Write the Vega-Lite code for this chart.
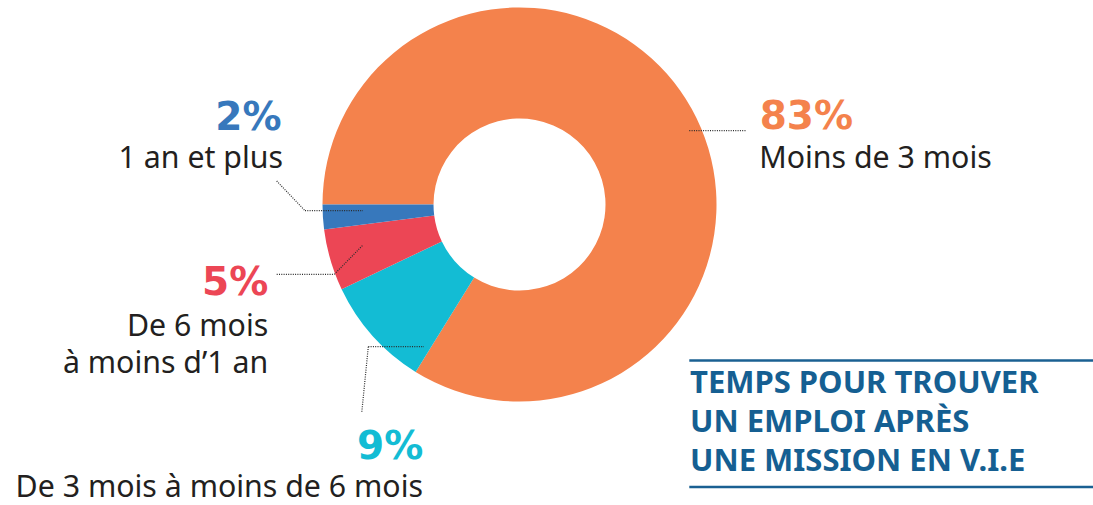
{
  "$schema": "https://vega.github.io/schema/vega-lite/v6.json",
  "width": 1039,
  "height": 409,
  "autosize": "none",
  "padding": {"left": 0, "top": 0, "right": 54, "bottom": 96},
  "background": "#ffffff",
  "config": {"view": {"stroke": null}, "axis": {"disable": true}},
  "layer": [
    {
      "data": {
        "values": [
          {"cat": "Moins de 3 mois", "pct": "83%", "value": 83, "rang": 1},
          {"cat": "De 3 mois à moins de 6 mois", "pct": "9%", "value": 9, "rang": 2},
          {"cat": "De 6 mois\nà moins d’1 an", "pct": "5%", "value": 5, "rang": 3},
          {"cat": "1 an et plus", "pct": "2%", "value": 2, "rang": 4}
        ]
      },
      "encoding": {
        "theta": {"field": "value", "type": "quantitative", "stack": true, "scale": {"range": [4.71238898, 10.99557429]}},
        "order": {"field": "rang", "type": "quantitative"},
        "detail": {"field": "cat", "type": "nominal"},
        "color": {
          "field": "cat", "type": "nominal", "legend": null,
          "scale": {
            "domain": ["Moins de 3 mois", "De 3 mois à moins de 6 mois", "De 6 mois\nà moins d’1 an", "1 an et plus"],
            "range": ["#F4824C", "#13BCD4", "#EC4655", "#3778BC"]
          }
        }
      },
      "layer": [
        {"mark": {"type": "arc", "outerRadius": 197, "innerRadius": 86}},
        {
          "mark": {"type": "text", "radius": 141, "align": "left", "baseline": "alphabetic", "dx": 117, "dy": -7, "font": "DejaVu Sans", "fontWeight": "bold", "fontSize": 39},
          "encoding": {"text": {"condition": {"test": "datum.rang === 1", "field": "pct"}, "value": ""}}
        },
        {
          "mark": {"type": "text", "radius": 141, "align": "left", "baseline": "alphabetic", "dx": 116.5, "dy": 32.4, "font": "Noto Sans", "fontSize": 30.3},
          "encoding": {"color": {"value": "#231F20"}, "text": {"condition": {"test": "datum.rang === 1", "field": "cat"}, "value": ""}}
        },
        {
          "mark": {"type": "text", "radius": 141, "align": "right", "baseline": "alphabetic", "dx": 8.8, "dy": 160.5, "font": "DejaVu Sans", "fontWeight": "bold", "fontSize": 39},
          "encoding": {"text": {"condition": {"test": "datum.rang === 2", "field": "pct"}, "value": ""}}
        },
        {
          "mark": {"type": "text", "radius": 141, "align": "right", "baseline": "alphabetic", "dx": 8.6, "dy": 198.5, "font": "Noto Sans", "fontSize": 30.3},
          "encoding": {"color": {"value": "#231F20"}, "text": {"condition": {"test": "datum.rang === 2", "field": "cat"}, "value": ""}}
        },
        {
          "mark": {"type": "text", "radius": 141, "align": "right", "baseline": "alphabetic", "dx": -116, "dy": 50.8, "font": "DejaVu Sans", "fontWeight": "bold", "fontSize": 39},
          "encoding": {"text": {"condition": {"test": "datum.rang === 3", "field": "pct"}, "value": ""}}
        },
        {
          "mark": {"type": "text", "radius": 141, "align": "right", "baseline": "alphabetic", "dx": -116, "dy": 91.8, "font": "Noto Sans", "fontSize": 30.3, "lineBreak": "\n", "lineHeight": 37},
          "encoding": {"color": {"value": "#231F20"}, "text": {"condition": {"test": "datum.rang === 3", "field": "cat"}, "value": ""}}
        },
        {
          "mark": {"type": "text", "radius": 141, "align": "right", "baseline": "alphabetic", "dx": -97.3, "dy": -83.5, "font": "DejaVu Sans", "fontWeight": "bold", "fontSize": 39},
          "encoding": {"text": {"condition": {"test": "datum.rang === 4", "field": "pct"}, "value": ""}}
        },
        {
          "mark": {"type": "text", "radius": 141, "align": "right", "baseline": "alphabetic", "dx": -95.8, "dy": -45.2, "font": "Noto Sans", "fontSize": 30.3},
          "encoding": {"color": {"value": "#231F20"}, "text": {"condition": {"test": "datum.rang === 4", "field": "cat"}, "value": ""}}
        }
      ]
    },
    {
      "data": {"values": [{}]},
      "mark": {"type": "rule", "stroke": "#2B2B2B", "strokeWidth": 1.2, "strokeDash": [1, 1.3]},
      "encoding": {
        "x": {"datum": -1.0888, "type": "quantitative", "scale": {"domain": [-2.6371, 2.6371], "nice": false, "zero": false}, "axis": null},
        "x2": {"datum": -0.7944},
        "y": {"datum": -0.0315, "type": "quantitative", "scale": {"domain": [-1.0381, 1.0381], "nice": false, "zero": false}, "axis": null}
      }
    },
    {
      "data": {"values": [{}]},
      "mark": {"type": "rule", "stroke": "#2B2B2B", "strokeWidth": 1.2, "strokeDash": [1, 1.3]},
      "encoding": {
        "x": {"datum": -1.2325, "type": "quantitative", "scale": {"domain": [-2.6371, 2.6371], "nice": false, "zero": false}, "axis": null},
        "x2": {"datum": -1.0888},
        "y": {"datum": 0.1193, "type": "quantitative", "scale": {"domain": [-1.0381, 1.0381], "nice": false, "zero": false}, "axis": null},
        "y2": {"datum": -0.0315}
      }
    },
    {
      "data": {"values": [{}]},
      "mark": {"type": "rule", "stroke": "#2B2B2B", "strokeWidth": 1.2, "strokeDash": [1, 1.3]},
      "encoding": {
        "x": {"datum": -1.2325, "type": "quantitative", "scale": {"domain": [-2.6371, 2.6371], "nice": false, "zero": false}, "axis": null},
        "x2": {"datum": -0.9401},
        "y": {"datum": -0.3543, "type": "quantitative", "scale": {"domain": [-1.0381, 1.0381], "nice": false, "zero": false}, "axis": null}
      }
    },
    {
      "data": {"values": [{}]},
      "mark": {"type": "rule", "stroke": "#2B2B2B", "strokeWidth": 1.2, "strokeDash": [1, 1.3]},
      "encoding": {
        "x": {"datum": -0.9401, "type": "quantitative", "scale": {"domain": [-2.6371, 2.6371], "nice": false, "zero": false}, "axis": null},
        "x2": {"datum": -0.7959},
        "y": {"datum": -0.3543, "type": "quantitative", "scale": {"domain": [-1.0381, 1.0381], "nice": false, "zero": false}, "axis": null},
        "y2": {"datum": -0.2071}
      }
    },
    {
      "data": {"values": [{}]},
      "mark": {"type": "rule", "stroke": "#2B2B2B", "strokeWidth": 1.2, "strokeDash": [1, 1.3]},
      "encoding": {
        "x": {"datum": -0.7675, "type": "quantitative", "scale": {"domain": [-2.6371, 2.6371], "nice": false, "zero": false}, "axis": null},
        "x2": {"datum": -0.4848},
        "y": {"datum": -0.7218, "type": "quantitative", "scale": {"domain": [-1.0381, 1.0381], "nice": false, "zero": false}, "axis": null}
      }
    },
    {
      "data": {"values": [{}]},
      "mark": {"type": "rule", "stroke": "#2B2B2B", "strokeWidth": 1.2, "strokeDash": [1, 1.3]},
      "encoding": {
        "x": {"datum": -0.7675, "type": "quantitative", "scale": {"domain": [-2.6371, 2.6371], "nice": false, "zero": false}, "axis": null},
        "x2": {"datum": -0.8010},
        "y": {"datum": -0.7218, "type": "quantitative", "scale": {"domain": [-1.0381, 1.0381], "nice": false, "zero": false}, "axis": null},
        "y2": {"datum": -1.0585}
      }
    },
    {
      "data": {"values": [{}]},
      "mark": {"type": "rule", "stroke": "#2B2B2B", "strokeWidth": 1.2, "strokeDash": [1, 1.3]},
      "encoding": {
        "x": {"datum": 0.8619, "type": "quantitative", "scale": {"domain": [-2.6371, 2.6371], "nice": false, "zero": false}, "axis": null},
        "x2": {"datum": 1.1497},
        "y": {"datum": 0.3746, "type": "quantitative", "scale": {"domain": [-1.0381, 1.0381], "nice": false, "zero": false}, "axis": null}
      }
    },
    {
      "data": {"values": [{}]},
      "mark": {"type": "rule", "stroke": "#1A6092", "strokeWidth": 2.5},
      "encoding": {
        "x": {"datum": 0.8619, "type": "quantitative", "scale": {"domain": [-2.6371, 2.6371], "nice": false, "zero": false}, "axis": null},
        "x2": {"datum": 2.9112},
        "y": {"datum": -0.7919, "type": "quantitative", "scale": {"domain": [-1.0381, 1.0381], "nice": false, "zero": false}, "axis": null}
      }
    },
    {
      "data": {"values": [{}]},
      "mark": {"type": "rule", "stroke": "#1A6092", "strokeWidth": 2.5},
      "encoding": {
        "x": {"datum": 0.8619, "type": "quantitative", "scale": {"domain": [-2.6371, 2.6371], "nice": false, "zero": false}, "axis": null},
        "x2": {"datum": 2.9112},
        "y": {"datum": -1.4340, "type": "quantitative", "scale": {"domain": [-1.0381, 1.0381], "nice": false, "zero": false}, "axis": null}
      }
    },
    {
      "data": {"values": [{}]},
      "mark": {"type": "text", "align": "left", "baseline": "alphabetic", "font": "Noto Sans", "fontWeight": "bold", "fontSize": 31, "lineHeight": 38.7, "color": "#155F92"},
      "encoding": {
        "x": {"datum": 0.8655, "type": "quantitative", "scale": {"domain": [-2.6371, 2.6371], "nice": false, "zero": false}, "axis": null},
        "y": {"datum": -0.9584, "type": "quantitative", "scale": {"domain": [-1.0381, 1.0381], "nice": false, "zero": false}, "axis": null},
        "text": {"value": ["TEMPS POUR TROUVER", "UN EMPLOI APRÈS", "UNE MISSION EN V.I.E"]}
      }
    }
  ]
}
